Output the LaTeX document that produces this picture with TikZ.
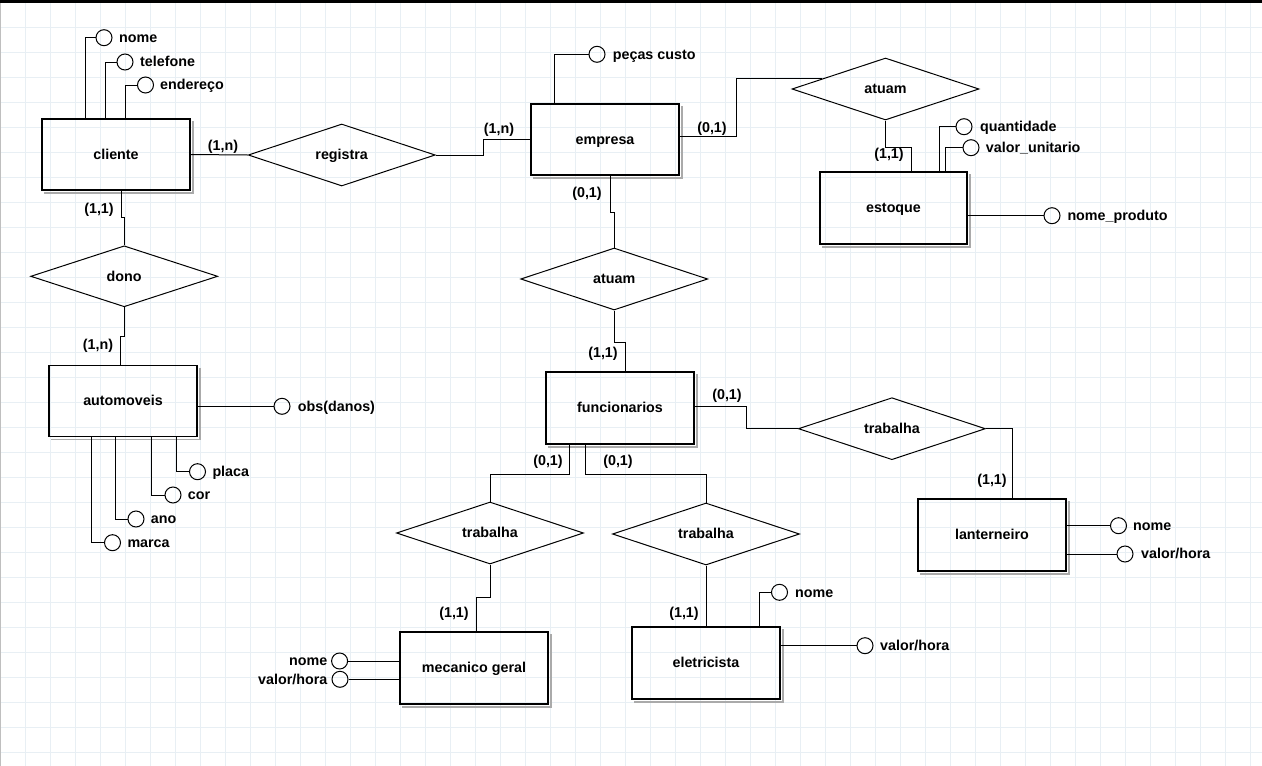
\documentclass[tikz,border=0pt]{standalone}
\usepackage{fontspec}
\setmainfont{Liberation Sans}
\usetikzlibrary{shapes.geometric}
\definecolor{gridc}{RGB}{232,239,244}
\definecolor{shadc}{RGB}{170,170,170}
\begin{document}
\begin{tikzpicture}[x=1pt,y=-1pt,
  every node/.style={font=\fontsize{14.3}{16}\selectfont\bfseries, text height=11.5pt, text depth=2pt},
  ent/.style={draw, line width=1.2pt, minimum width=148pt, minimum height=71pt, inner sep=0pt},
  rel/.style={draw, diamond, line width=1pt, minimum width=187pt, minimum height=62pt, inner sep=0pt, aspect=3},
  att/.style={draw, circle, line width=1pt, minimum size=16pt, inner sep=0pt},
  lab/.style={inner sep=0pt},
  conn/.style={line width=1pt},
  shad/.style={draw=shadc, line width=1.6pt},
  ]
\useasboundingbox (0,0) rectangle (1262,766);
\fill[white] (0,0) rectangle (1262,766);
\foreach \x in {0.5,25.5,...,1260} \draw[gridc, line width=1pt] (\x,0) -- (\x,766);
\foreach \y in {2,27,...,766} \draw[gridc, line width=1pt] (0,\y) -- (1262,\y);
\draw[black!25, line width=1.5pt] (0.5,0) -- (0.5,766);
\draw[black, line width=2.6pt] (0,1.3) -- (1262,1.3);

% entities
\node[ent] (cliente) at (116,154.5) {cliente};
\node[ent] (empresa) at (605,139.5) {empresa};
\node[ent, minimum width=147pt, minimum height=72pt] (estoque) at (893.5,208) {estoque};
\node[ent] (automoveis) at (123,401) {automoveis};
\node[ent, minimum height=72pt] (funcionarios) at (620,408) {funcionarios};
\node[ent, minimum height=72pt] (lanterneiro) at (992,535) {lanterneiro};
\node[ent, minimum height=72pt] (mecanico) at (474,668) {mecanico geral};
\node[ent, minimum height=72pt] (eletricista) at (706,663) {eletricista};
\foreach \n in {cliente,empresa,estoque,automoveis,funcionarios,lanterneiro,mecanico,eletricista}
  \draw[shad] ([shift={(2.2,3)}]\n.north east) -- ([shift={(2.2,2.2)}]\n.south east) -- ([shift={(3,2.2)}]\n.south west);

% relationships
\node[rel] (registra) at (341.7,155) {registra};
\node[rel] (atuamE) at (885.5,89) {atuam};
\node[rel, minimum height=61pt] (dono) at (124.2,276.3) {dono};
\node[rel] (atuamF) at (614.2,279) {atuam};
\node[rel] (trabR) at (891.9,428.7) {trabalha};
\node[rel] (trabM) at (490,533) {trabalha};
\node[rel] (trabE) at (706,534) {trabalha};

% relationship connectors
\draw[conn] (cliente.east) -- (registra.west);
\draw[conn] (registra.east) -- ++(48,0) |- (empresa.west);
\draw[conn] ([yshift=3pt]empresa.east) -- ++(57,0) |- (atuamE.171);
\draw[conn] (atuamE.south) -- ++(0,27) -| ([xshift=18pt]estoque.north);
\draw[conn] ([xshift=5pt]empresa.south) -- ++(0,37) -| (atuamF.north);
\draw[conn] (atuamF.south) -- ++(0,32) -| ([xshift=5.7pt]funcionarios.north);
\draw[conn] ([xshift=5.7pt]cliente.south) -- ++(0,27) -| (dono.north);
\draw[conn] (dono.south) -- ++(0,29) -| ([xshift=-2.3pt]automoveis.north);
\draw[conn] ([yshift=1.3pt]funcionarios.east) -- ++(52,0) |- (trabR.west);
\draw[conn] (trabR.east) -| ([xshift=20pt]lanterneiro.north);
\draw[conn] ([xshift=-50.7pt]funcionarios.south) -- ++(0,30) -| (trabM.north);
\draw[conn] ([xshift=-34.3pt]funcionarios.south) -- ++(0,30) -| (trabE.north);
\draw[conn] (trabM.south) -- ++(0,33) -| ([xshift=2.4pt]mecanico.north);
\draw[conn] (trabE.south) -- (eletricista.north);

% cardinalities
\node[lab] (k1) at (223,146) {(1,n)};
\node[lab] (k2) at (499,129) {(1,n)};
\node[lab] (k3) at (712,128) {(0,1)};
\node[lab] (k4) at (889,154) {(1,1)};
\node[lab] (k5) at (587,193) {(0,1)};
\node[lab] (k6) at (603,353) {(1,1)};
\node[lab] (k7) at (99,209) {(1,1)};
\node[lab] (k8) at (98,345) {(1,n)};
\node[lab] (k9) at (727,395) {(0,1)};
\node[lab] (k10) at (992,480) {(1,1)};
\node[lab] (k11) at (548,461) {(0,1)};
\node[lab] (k12) at (618,461) {(0,1)};
\node[lab] (k13) at (454,613) {(1,1)};
\node[lab] (k14) at (684,613) {(1,1)};

% attributes: cliente
\node[att] (cnome) at (104,37.7) {};
\node[att] (ctel) at (125,62) {};
\node[att] (cend) at (145.5,85) {};
\node[lab, anchor=west] (tcnome) at (119,37.7) {nome};
\node[lab, anchor=west] (tctel) at (140,62) {telefone};
\node[lab, anchor=west] (tcend) at (160,85) {endereço};
\draw[conn] ([xshift=-31pt]cliente.north) |- (cnome.west);
\draw[conn] ([xshift=-11pt]cliente.north) |- (ctel.west);
\draw[conn] ([xshift=9pt]cliente.north) |- (cend.west);

% empresa
\node[att] (epec) at (597,54.3) {};
\node[lab, anchor=west] (tepec) at (612.7,54.3) {peças custo};
\draw[conn] ([xshift=-50.7pt]empresa.north) |- (epec.west);

% estoque
\node[att] (squant) at (964,126.7) {};
\node[att] (svalor) at (971,147.7) {};
\node[att] (sprod) at (1052,215.7) {};
\node[lab, anchor=west] (tsquant) at (980,126.7) {quantidade};
\node[lab, anchor=west] (tsvalor) at (985.7,147.7) {valor\_unitario};
\node[lab, anchor=west] (tsprod) at (1067.3,215.7) {nome\_produto};
\draw[conn] ([xshift=45.8pt]estoque.north) |- (squant.west);
\draw[conn] ([xshift=51.8pt]estoque.north) |- (svalor.west);
\draw[conn] (estoque.east |- sprod.west) -- (sprod.west);

% automoveis
\node[att] (aobs) at (282,406.3) {};
\node[att] (aplaca) at (197.5,471.7) {};
\node[att] (acor) at (173,495) {};
\node[att] (aano) at (136,519) {};
\node[att] (amarca) at (112.5,542.7) {};
\node[lab, anchor=west] (taobs) at (297.7,406.3) {obs(danos)};
\node[lab, anchor=west] (taplaca) at (212.3,471.7) {placa};
\node[lab, anchor=west] (tacor) at (187.7,495) {cor};
\node[lab, anchor=west] (taano) at (150.7,519) {ano};
\node[lab, anchor=west] (tamarca) at (127.3,542.7) {marca};
\draw[conn] (automoveis.east |- aobs.west) -- (aobs.west);
\draw[conn] ([xshift=53pt]automoveis.south) |- (aplaca.west);
\draw[conn] ([xshift=28.7pt]automoveis.south) |- (acor.west);
\draw[conn] ([xshift=-7.3pt]automoveis.south) |- (aano.west);
\draw[conn] ([xshift=-31.3pt]automoveis.south) |- (amarca.west);

% lanterneiro
\node[att] (lnome) at (1118.5,525.7) {};
\node[att] (lvalor) at (1125,554) {};
\node[lab, anchor=west] (tlnome) at (1133,525.7) {nome};
\node[lab, anchor=west] (tlvalor) at (1141,554) {valor/hora};
\draw[conn] (lanterneiro.east |- lnome.west) -- (lnome.west);
\draw[conn] (lanterneiro.east |- lvalor.west) -- (lvalor.west);

% mecanico geral
\node[att] (mnome) at (339.6,661) {};
\node[att] (mvalor) at (340,679.3) {};
\node[lab, anchor=east] (tmnome) at (327.5,661) {nome};
\node[lab, anchor=east] (tmvalor) at (327.5,679.3) {valor/hora};
\draw[conn] (mnome.east) -- (mecanico.west |- mnome.east);
\draw[conn] (mvalor.east) -- (mecanico.west |- mvalor.east);

% eletricista
\node[att] (enome) at (779.5,592.3) {};
\node[att] (evalor) at (865,645.7) {};
\node[lab, anchor=west] (tenome) at (795,592.3) {nome};
\node[lab, anchor=west] (tevalor) at (880,645.7) {valor/hora};
\draw[conn] ([xshift=53.6pt]eletricista.north) |- (enome.west);
\draw[conn] (eletricista.east |- evalor.west) -- (evalor.west);
\end{tikzpicture}
\end{document}
